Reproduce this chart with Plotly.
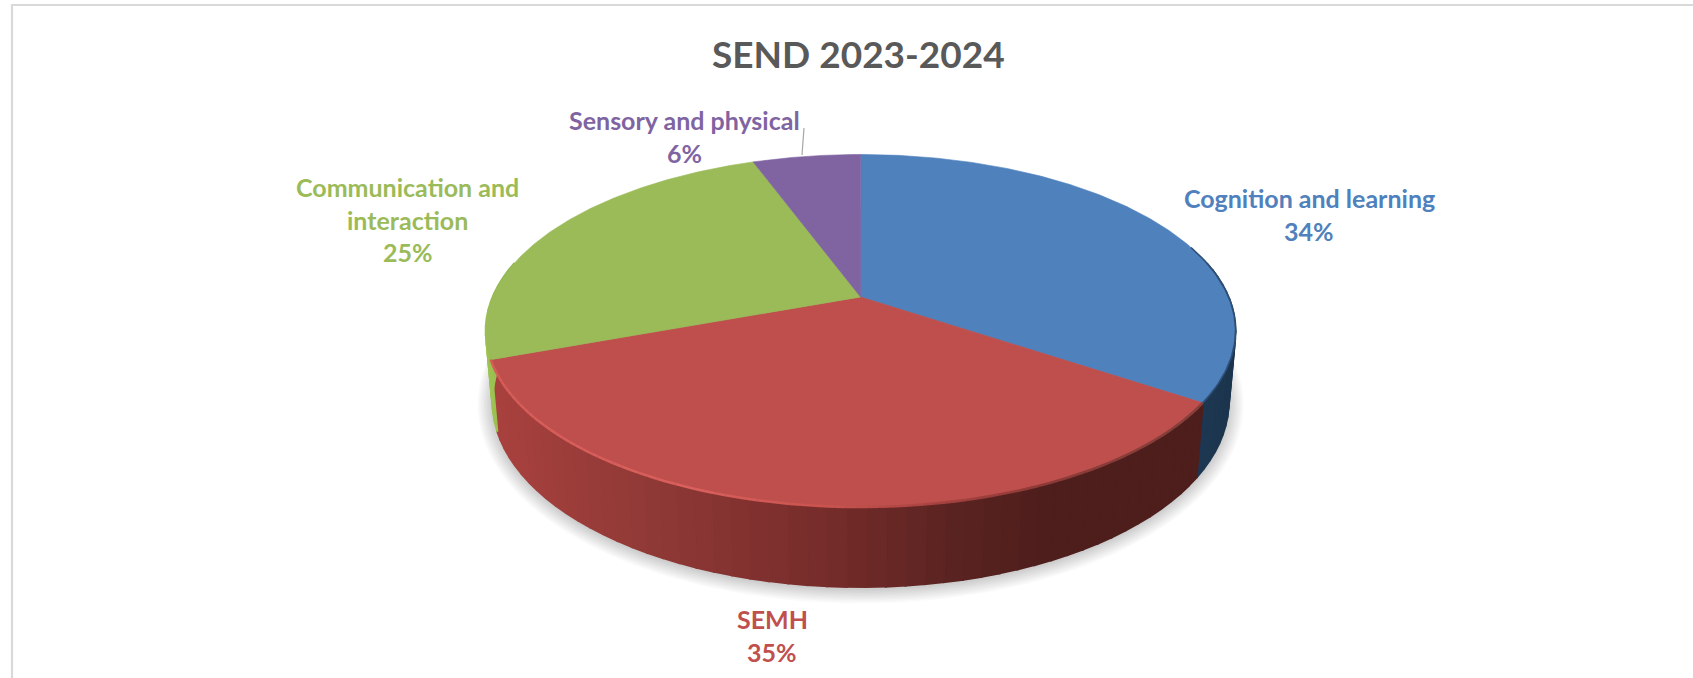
import numpy as np
import plotly.graph_objects as go

# ---- data ----
categories = ["Cognition and learning", "SEMH", "Communication and interaction", "Sensory and physical"]
values = [34.4, 35.0, 25.0, 5.6]
title_text = "SEND 2023-2024"

# ---- style ----
W, H = 1693, 678
top_colors = ["#4F81BD", "#BE4F4C", "#9BBB59", "#8064A2"]
text_colors = ["#4F81BD", "#C0504D", "#9BBB59", "#8064A2"]
FONT = "Lato"

# projection of the 3D disc into the page
X0, Y0, A, B, K = 860.6, 297.0, 169.8, 368.0, 0.1915
SHRINK = 0.982


def top_pt(t):
    s, c = np.cos(t), np.sin(t)
    w = 1 + K * s
    return X0 + B * c / w, Y0 - A * s / w


def bot_pt(t):
    x, y = top_pt(t)
    s = np.cos(t)
    return X0 + SHRINK * (x - X0), y + 68 - 12 * s


def lerp_hex(stops, v):
    xs = [p[0] for p in stops]
    rgb = [[int(p[1][i:i + 2], 16) for p in stops] for i in (1, 3, 5)]
    r, g, b = [int(round(np.interp(v, xs, ch))) for ch in rgb]
    return f"rgb({r},{g},{b})"


side_stops = [
    [(1180, "#1E3A56"), (1240, "#1C344D")],
    [(493, "#A8413E"), (650, "#8F3936"), (800, "#7A2E2C"), (860, "#6E2A28"), (950, "#5A2321"), (1050, "#4E1E1C"), (1200, "#4E1E1C")],
    [(480, "#A2C957"), (500, "#8FB548")],
    [(700, "#5E4A78"), (860, "#5E4A78")],
]

fig = go.Figure()


def poly(xs, ys, color, line=0.8):
    fig.add_trace(go.Scatter(x=xs, y=ys, mode="lines", fill="toself", fillcolor=color,
                             line=dict(color=color, width=line), hoverinfo="skip", showlegend=False))


# soft ground shadow
tt = np.linspace(0, 2 * np.pi, 240)
bx, by = bot_pt(tt)
for grow in np.linspace(15, 1, 10):
    f = 1 + grow / 370
    poly(X0 + (bx - X0) * f, (by - 380) * (1 + grow / 215) + 380 + 2, "rgba(0,0,0,0.018)", 0)

# slice angles, clockwise from 12 o'clock
fractions = np.array(values) / sum(values)
edges = np.concatenate([[0], np.cumsum(fractions)]) * 2 * np.pi

# side wall, built from narrow bands so it can shade across
VIS0, VIS1 = np.radians(78), np.radians(282)
for i in range(len(values)):
    lo, hi = max(edges[i], VIS0), min(edges[i + 1], VIS1)
    if hi <= lo:
        continue
    n = max(2, int(np.degrees(hi - lo) / 2.5))
    ts = np.linspace(lo, hi, n + 1)
    for t0, t1 in zip(ts[:-1], ts[1:]):
        seg = np.linspace(t0, t1, 3)
        tx, ty = top_pt(seg)
        ux, uy = bot_pt(seg)
        col = lerp_hex(side_stops[i], float(top_pt((t0 + t1) / 2)[0]))
        poly(np.r_[tx, ux[::-1], tx[0]], np.r_[ty, uy[::-1], ty[0]], col, 2.0)

# top faces
for i in range(len(values)):
    seg = np.linspace(edges[i], edges[i + 1], 200)
    ex, ey = top_pt(seg)
    fig.add_trace(go.Scatter(x=np.r_[X0, ex, X0], y=np.r_[Y0, ey, Y0], mode="lines", fill="toself",
                             fillcolor=top_colors[i], line=dict(color=top_colors[i], width=0.6),
                             name=categories[i], hoverinfo="name", showlegend=False))

# bevel highlight / shade along the front rim of the SEMH slice
rim_stops = [(493, "#D55C58"), (700, "#D9605C"), (830, "#C9534F"), (930, "#A84341"), (1050, "#8B3A37"), (1200, "#86403B")]
ts = np.linspace(edges[1], edges[2], 90)
for t0, t1 in zip(ts[:-1], ts[1:]):
    x0, y0 = top_pt(t0)
    x1, y1 = top_pt(t1)
    col = lerp_hex(rim_stops, (x0 + x1) / 2)
    fig.add_trace(go.Scatter(x=[x0, x1], y=[y0, y1], mode="lines", line=dict(color=col, width=2.6),
                             hoverinfo="skip", showlegend=False))
# dark edge on the right of the blue slice
seg = np.linspace(np.radians(72), edges[1], 60)
ex, ey = top_pt(seg)
fig.add_trace(go.Scatter(x=ex, y=ey, mode="lines", line=dict(color="#2D4F75", width=1.6),
                         hoverinfo="skip", showlegend=False))

# text labels, one annotation per line
pct = [f"{round(v)}%" for v in values]
label_lines = [
    (1309, [(198, categories[0]), (231, pct[0])]),
    (772, [(619, categories[1]), (652, pct[1])]),
    (407.5, [(187, "Communication and"), (220, "interaction"), (252, pct[2])]),
    (684, [(120, categories[3]), (153, pct[3])]),
]
annotations = []
for i, (cx, lines) in enumerate(label_lines):
    for ly, txt in lines:
        annotations.append(dict(x=cx, y=ly, xref="x", yref="y", text=f"<b>{txt}</b>", showarrow=False,
                                xanchor="center", yanchor="middle",
                                font=dict(family=FONT, size=25, color=text_colors[i])))
annotations.append(dict(x=858.5, y=53, xref="x", yref="y", text=f"<b>{title_text}</b>", showarrow=False,
                        xanchor="center", yanchor="middle", font=dict(family=FONT, size=37, color="#595959")))

shapes = [
    dict(type="path", path=f"M 12 {H} L 12 5 L {W} 5", xref="x", yref="y",
         line=dict(color="#D9D9D9", width=2.2)),
    dict(type="path", path="M 804 128 L 802 155", xref="x", yref="y",
         line=dict(color="#A6A6A6", width=1.2)),
]

fig.update_layout(
    width=W, height=H, margin=dict(l=0, r=0, t=0, b=0),
    paper_bgcolor="white", plot_bgcolor="white", showlegend=False,
    xaxis=dict(range=[0, W], visible=False, fixedrange=True),
    yaxis=dict(range=[H, 0], visible=False, fixedrange=True),
    annotations=annotations, shapes=shapes,
)

fig.write_html("out.html", config={"displayModeBar": False},
               post_script="document.body.style.margin='0';document.body.style.overflow='hidden';")
